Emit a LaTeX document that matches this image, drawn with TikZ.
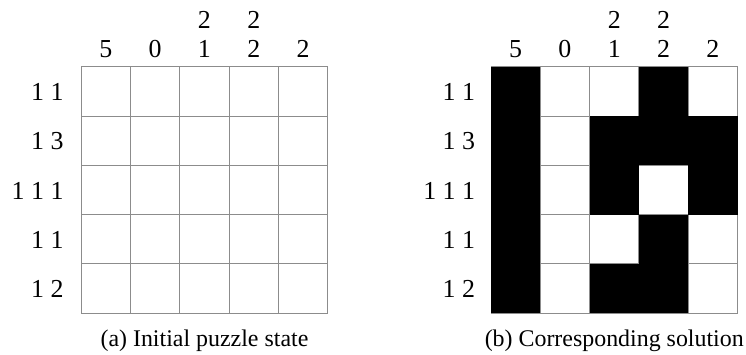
\documentclass[tikz,border=0pt]{standalone}
\usepackage{fontspec}
\setmainfont{Liberation Serif}
\begin{document}
\begin{tikzpicture}[x=1bp,y=-1bp,
  clue/.style={inner sep=0pt,font=\fontsize{26}{29}\selectfont},
  captext/.style={inner sep=0pt,font=\fontsize{24}{27}\selectfont,anchor=base},
  gridline/.style={draw=black!45,line width=0.9bp},
  filled/.style={fill=black}]
\useasboundingbox (0,0) rectangle (746,354);
\def\cs{49.3}
% ---- left puzzle ----
\begin{scope}[shift={(81.2,66.7)}]
  \foreach \i in {0,...,5} {
    \draw[gridline] ({\i*\cs},0) -- ({\i*\cs},5*\cs);
    \draw[gridline] (0,{\i*\cs}) -- (5*\cs,{\i*\cs});
  }
  \foreach \c/\t in {0/5,1/0,2/1,3/2,4/2}
    \node[clue,anchor=base] (Lcb\c) at ({(\c+0.5)*\cs},-9.3) {\t};
  \foreach \c/\t in {2/2,3/2}
    \node[clue,anchor=base] (Lct\c) at ({(\c+0.5)*\cs},-38.3) {\t};
  \foreach \r/\t in {0/1 1,1/1 3,2/1 1 1,3/1 1,4/1 2}
    \node[clue,anchor=base east] (Lr\r) at (-17.5,{(\r+0.5)*\cs+9.2}) {\t};
  \node[captext] (capa) at (2.5*\cs,279.5) {(a) Initial puzzle state};
\end{scope}
% ---- right solution ----
\begin{scope}[shift={(491,66.7)}]
  \foreach \i in {0,...,5} {
    \draw[gridline] ({\i*\cs},0) -- ({\i*\cs},5*\cs);
    \draw[gridline] (0,{\i*\cs}) -- (5*\cs,{\i*\cs});
  }
  \foreach \r/\c in {0/0,0/3,1/0,1/2,1/3,1/4,2/0,2/2,2/4,3/0,3/3,4/0,4/2,4/3}
    \fill[filled] ({\c*\cs},{\r*\cs}) rectangle ({(\c+1)*\cs},{(\r+1)*\cs});
  \foreach \c/\t in {0/5,1/0,2/1,3/2,4/2}
    \node[clue,anchor=base] (Rcb\c) at ({(\c+0.5)*\cs},-9.3) {\t};
  \foreach \c/\t in {2/2,3/2}
    \node[clue,anchor=base] (Rct\c) at ({(\c+0.5)*\cs},-38.3) {\t};
  \foreach \r/\t in {0/1 1,1/1 3,2/1 1 1,3/1 1,4/1 2}
    \node[clue,anchor=base east] (Rr\r) at (-15.7,{(\r+0.5)*\cs+9.2}) {\t};
  \node[captext] (capb) at (2.5*\cs,279.5) {(b) Corresponding solution};
\end{scope}
\end{tikzpicture}
\end{document}
